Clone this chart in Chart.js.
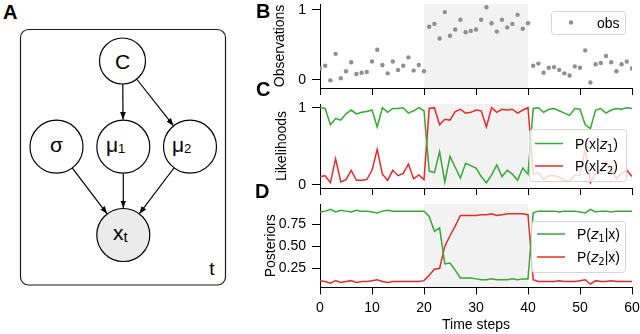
<!DOCTYPE html>
<html>
<head>
<meta charset="utf-8">
<script src="https://cdn.jsdelivr.net/npm/chart.js@4.4.0/dist/chart.umd.min.js"></script>
<style>
  body { margin: 0; width: 640px; height: 334px; background: #fff; position: relative; overflow: hidden; font-family: "Liberation Sans", Arial, sans-serif; }
  canvas { position: absolute; }
  .letter { position: absolute; font: bold 20px "Liberation Sans", Arial, sans-serif; line-height: 20px; }
</style>
</head>
<body>

<!-- graphical model (panel A) -->
<svg width="240" height="334" viewBox="0 0 240 334" style="position:absolute;left:0;top:0" font-family="Liberation Sans, Arial, sans-serif">
  <defs>
    <marker id="arr" viewBox="0 0 10 10" refX="10" refY="5" markerWidth="7.5" markerHeight="7.5" orient="auto" markerUnits="userSpaceOnUse">
      <path d="M0,1.2 L10,5 L0,8.8 Z" fill="#000"/>
    </marker>
  </defs>
  <rect x="20.5" y="29.5" width="205" height="255.5" rx="8" ry="8" fill="#fff" stroke="#1a1a1a" stroke-width="1.2"/>
  <g stroke="#000" stroke-width="1.2" marker-end="url(#arr)">
    <line x1="122.8" y1="84" x2="123" y2="119.5"/>
    <line x1="137" y1="79.5" x2="173.4" y2="125.7"/>
    <line x1="72.2" y1="167.9" x2="107.1" y2="213.8"/>
    <line x1="123.3" y1="173.4" x2="123.3" y2="208"/>
    <line x1="173.9" y1="168" x2="139.4" y2="213.7"/>
  </g>
  <g fill="#fff" stroke="#000" stroke-width="1.2">
    <circle cx="122.5" cy="61" r="23"/>
    <circle cx="56.5" cy="146.7" r="26.5"/>
    <circle cx="123.3" cy="146.7" r="26.5"/>
    <circle cx="190" cy="146.7" r="26.5"/>
    <circle cx="123.3" cy="235" r="26.5" fill="#ebebeb"/>
  </g>
  <g font-size="21" fill="#000">
    <text x="122.5" y="68.5" text-anchor="middle">C</text>
    <text x="56.5" y="152" text-anchor="middle">σ</text>
    <text x="106" y="152">μ<tspan font-size="13" dy="1">1</tspan></text>
    <text x="172" y="152">μ<tspan font-size="13" dy="1">2</tspan></text>
    <text x="113" y="239.5">x<tspan font-size="15" dy="2">t</tspan></text>
    <text x="212" y="275" text-anchor="middle" font-size="19">t</text>
  </g>
</svg>

<canvas id="chartB" width="400" height="100" style="left:240px;top:0px"></canvas>
<canvas id="chartC" width="400" height="100" style="left:240px;top:100px"></canvas>
<canvas id="chartD" width="400" height="134" style="left:240px;top:200px"></canvas>

<div class="letter" style="left:3px;top:2px">A</div>
<div class="letter" style="left:256px;top:1px">B</div>
<div class="letter" style="left:256px;top:79px">C</div>
<div class="letter" style="left:255px;top:181px">D</div>

<script>
// time axis
var steps = [0,1,2,3,4,5,6,7,8,9,10,11,12,13,14,15,16,17,18,19,20,
             21,22,23,24,25,26,27,28,29,30,31,32,33,34,35,36,37,38,39,40,
             41,42,43,44,45,46,47,48,49,50,51,52,53,54,55,56,57,58,59,60];
var xTicks = [0,10,20,30,40,50,60];
var switchSpan = [20, 40];

// B: observations
var observations = [0.16,0.20,-0.01,0.37,0.02,0.12,0.25,0.08,0.10,0.11,
                    0.26,0.43,0.21,0.09,0.26,0.14,0.20,0.32,0.13,0.21,
                    0.12,0.76,0.80,0.59,0.97,0.63,0.72,0.86,0.68,0.70,
                    0.72,0.86,1.04,0.81,0.69,0.86,0.75,0.80,0.93,0.73,
                    0.81,0.20,0.23,0.10,0.17,0.18,0.14,0.09,0.06,0.19,
                    0.17,0.42,-0.04,0.22,0.24,0.34,0.25,0.12,0.22,0.26,
                    0.16];
var obsTicks = [0, 1];

// C: likelihoods
var likZ1 = [1.00,0.99,0.78,0.86,0.84,0.92,0.97,0.92,0.94,0.95,
             0.97,0.75,1.00,0.94,0.99,0.99,1.00,0.93,0.96,1.00,
             0.96,0.18,0.16,0.43,0.04,0.37,0.23,0.09,0.28,0.25,
             0.22,0.11,0.03,0.13,0.26,0.11,0.19,0.14,0.06,0.22,
             0.14,0.99,1.00,0.94,0.98,0.99,0.96,0.93,0.90,0.99,
             0.98,0.78,0.73,0.97,0.99,0.93,0.97,0.99,0.98,1.00,
             0.99];
var likZ2 = [0.11,0.12,0.03,0.34,0.04,0.07,0.19,0.06,0.06,0.07,
             0.19,0.46,0.14,0.06,0.19,0.12,0.15,0.27,0.08,0.13,
             0.07,0.99,1.00,0.78,0.85,0.84,0.95,0.98,0.93,0.94,
             0.97,0.96,0.75,1.00,0.94,0.98,0.97,0.98,0.93,0.97,
             1.00,0.14,0.16,0.07,0.12,0.12,0.10,0.06,0.05,0.13,
             0.12,0.47,0.03,0.15,0.17,0.30,0.19,0.08,0.15,0.19,
             0.11];
var likTicks = [0, 1];

// D: posteriors
var postZ1 = [0.89,0.90,0.92,0.89,0.91,0.90,0.89,0.91,0.90,0.90,
              0.89,0.88,0.90,0.91,0.90,0.90,0.90,0.90,0.90,0.90,
              0.90,0.84,0.67,0.71,0.30,0.31,0.23,0.14,0.14,0.14,
              0.13,0.12,0.12,0.13,0.12,0.12,0.12,0.13,0.12,0.13,
              0.13,0.88,0.90,0.90,0.90,0.90,0.89,0.90,0.90,0.90,
              0.89,0.88,0.92,0.89,0.90,0.90,0.89,0.90,0.90,0.90,
              0.90];
var postZ2 = [0.11,0.10,0.08,0.11,0.09,0.10,0.11,0.09,0.10,0.10,
              0.11,0.12,0.10,0.09,0.10,0.10,0.10,0.10,0.10,0.10,
              0.11,0.17,0.24,0.25,0.50,0.62,0.73,0.85,0.85,0.85,
              0.85,0.86,0.86,0.87,0.85,0.86,0.87,0.87,0.87,0.87,
              0.86,0.12,0.10,0.10,0.10,0.10,0.11,0.10,0.10,0.10,
              0.11,0.12,0.07,0.11,0.10,0.10,0.11,0.10,0.10,0.10,
              0.10];
var postTicks = [0.25, 0.5, 0.75];

var obsLabel = 'obs';
var likLabels = ['P(x|z_1)', 'P(x|z_2)'];
var postLabels = ['P(z_1|x)', 'P(z_2|x)'];

var GREEN = '#36a836', RED = '#e32b2b', DOTS = '#8f8f8f';
var FONT = '"Liberation Sans", Arial, sans-serif';

Chart.defaults.font.family = FONT;
Chart.defaults.font.size = 14;
Chart.defaults.color = '#000';

function pts(arr) {
  return arr.map(function (v, i) { return {x: steps[i], y: v}; });
}

function fixedTicks(values) {
  return function (scale) { scale.ticks = values.map(function (v) { return {value: v}; }); };
}

// grey band for the switched regime, painted under axes and data
var shadePlugin = {
  id: 'shade',
  beforeDraw: function (chart, args, o) {
    var ctx = chart.ctx, ca = chart.chartArea, x = chart.scales.x;
    var x0 = x.getPixelForValue(o.from), x1 = x.getPixelForValue(o.to);
    ctx.save();
    ctx.fillStyle = '#f2f2f2';
    ctx.fillRect(x0, ca.top, x1 - x0, ca.bottom - ca.top);
    ctx.restore();
  }
};

// label like P(x|z_1): z in italics, digit as subscript
function drawMathLabel(ctx, label, x, y) {
  var base = y + 5;
  label.split(/(z_\d)/).forEach(function (part) {
    if (!part) return;
    var m = part.match(/^z_(\d)$/);
    if (m) {
      ctx.font = 'italic 14px "DejaVu Sans"';
      ctx.fillText('z', x, base);
      x += ctx.measureText('z').width;
      ctx.font = '10px "DejaVu Sans"';
      ctx.fillText(m[1], x, base + 3);
      x += ctx.measureText(m[1]).width;
    } else {
      ctx.font = '14px ' + FONT;
      ctx.fillText(part, x, base);
      x += ctx.measureText(part).width;
    }
  });
}

// matplotlib-like framed legend, semi transparent
var boxLegend = {
  id: 'boxLegend',
  afterDraw: function (chart, args, o) {
    var ctx = chart.ctx, ca = chart.chartArea;
    var x0 = ca.right - o.right - o.width, y0 = ca.top + o.top;
    ctx.save();
    ctx.beginPath();
    ctx.roundRect(x0 + 0.5, y0 + 0.5, o.width, o.height, 3);
    ctx.fillStyle = 'rgba(255,255,255,0.8)';
    ctx.fill();
    ctx.strokeStyle = '#d4d4d4';
    ctx.lineWidth = 1;
    ctx.stroke();
    chart.data.datasets.forEach(function (ds, i) {
      var cy = y0 + o.rowTop + i * o.rowGap;
      if (ds.showLine === false) {
        ctx.beginPath();
        ctx.arc(x0 + 20, cy, 2.2, 0, Math.PI * 2);
        ctx.fillStyle = ds.backgroundColor;
        ctx.fill();
      } else {
        ctx.beginPath();
        ctx.moveTo(x0 + 6, cy);
        ctx.lineTo(x0 + 34, cy);
        ctx.strokeStyle = ds.borderColor;
        ctx.lineWidth = 1.5;
        ctx.stroke();
      }
      ctx.fillStyle = '#000';
      drawMathLabel(ctx, ds.label, x0 + 46, cy);
    });
    ctx.restore();
  }
};

function noPad(s) {
  s.paddingTop = 0; s.paddingBottom = 0; s.paddingLeft = 0; s.paddingRight = 0;
}

function panel(id, type, datasets, p) {
  return new Chart(document.getElementById(id), {
    type: type,
    data: {datasets: datasets},
    options: {
      responsive: false,
      animation: false,
      events: [],
      layout: {padding: {top: 4, right: 8, left: 0, bottom: 0}},
      plugins: {
        legend: {display: false},
        tooltip: {enabled: false},
        shade: {from: switchSpan[0], to: switchSpan[1]},
        boxLegend: p.legend
      },
      scales: {
        x: {
          type: 'linear', min: 0, max: 60,
          afterBuildTicks: fixedTicks(xTicks),
          afterFit: function (s) { s.height = p.xHeight; noPad(s); },
          grid: {drawOnChartArea: false, drawTicks: true, tickLength: 7, color: '#000', lineWidth: 1},
          border: {display: true, color: '#000', width: 1},
          ticks: {display: p.xLabels, padding: 5, maxRotation: 0},
          title: {display: p.xLabels, text: 'Time steps', padding: {top: 0, bottom: 0}}
        },
        y: {
          min: p.yMin, max: p.yMax,
          afterBuildTicks: fixedTicks(p.yTicks),
          afterFit: function (s) { s.width = 80; noPad(s); },
          grid: {drawOnChartArea: false, drawTicks: true, tickLength: 8, color: '#000', lineWidth: 1},
          border: {display: true, color: '#000', width: 1},
          ticks: {padding: 6, callback: p.fmt},
          title: {display: true, text: p.yTitle, padding: {top: p.titlePad, bottom: 0}}
        }
      }
    },
    plugins: [shadePlugin, boxLegend]
  });
}

function lineSet(label, arr, color) {
  return {label: label, data: pts(arr), borderColor: color, backgroundColor: color,
          borderWidth: 1.5, pointRadius: 0, tension: 0, fill: false};
}

panel('chartB', 'scatter', [
  {label: obsLabel, data: pts(observations), showLine: false, pointRadius: 2.2,
   pointBorderWidth: 0, backgroundColor: DOTS, borderColor: DOTS}
], {
  yMin: -0.12, yMax: 1.086, yTicks: obsTicks, yTitle: 'Observations', titlePad: 31.6,
  xHeight: 12, xLabels: false, fmt: function (v) { return String(v); },
  legend: {right: 7, top: 7, width: 74, height: 23, rowTop: 11.5, rowGap: 0}
});

panel('chartC', 'line', [
  lineSet(likLabels[0], likZ1, GREEN),
  lineSet(likLabels[1], likZ2, RED)
], {
  yMin: -0.039, yMax: 1.048, yTicks: likTicks, yTitle: 'Likelihoods', titlePad: 33.6,
  xHeight: 12, xLabels: false, fmt: function (v) { return String(v); },
  legend: {right: 6, top: 25, width: 97, height: 52, rowTop: 14.5, rowGap: 22.5}
});

panel('chartD', 'line', [
  lineSet(postLabels[0], postZ1, GREEN),
  lineSet(postLabels[1], postZ2, RED)
], {
  yMin: 0.032, yMax: 0.981, yTicks: postTicks, yTitle: 'Posteriors', titlePad: 22.6,
  xHeight: 46.5, xLabels: true, fmt: function (v) { return v.toFixed(2); },
  legend: {right: 7, top: 17, width: 94, height: 51, rowTop: 13, rowGap: 23}
});
</script>
</body>
</html>
